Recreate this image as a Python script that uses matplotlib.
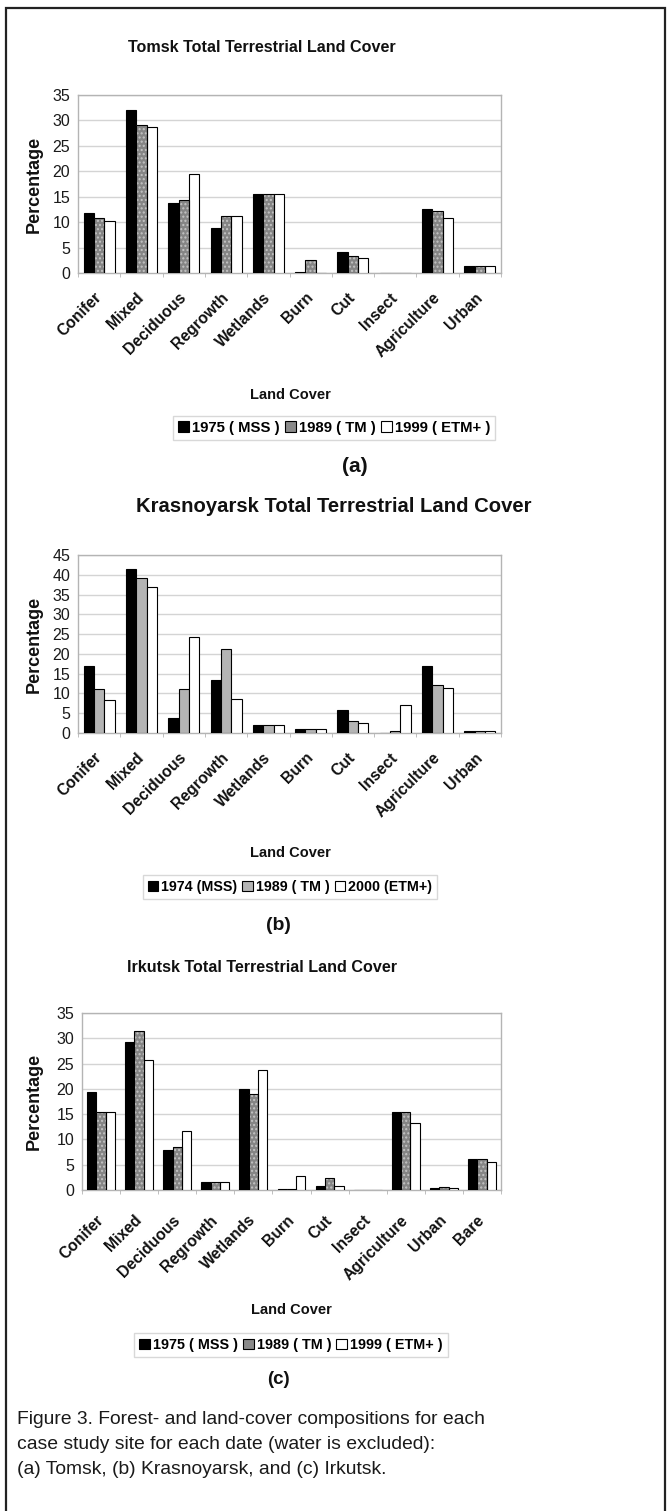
import matplotlib
matplotlib.use("Agg")
import matplotlib.pyplot as plt
from matplotlib.patches import Patch, Rectangle
import numpy as np

# ---------------------------------------------------------------- data
categories_tomsk = ["Conifer", "Mixed", "Deciduous", "Regrowth", "Wetlands",
                    "Burn", "Cut", "Insect", "Agriculture", "Urban"]
tomsk_1975 = [11.8, 32.0, 13.8, 8.9, 15.6, 0.1, 4.1, 0.0, 12.5, 1.3]
tomsk_1989 = [10.8, 29.1, 14.4, 11.2, 15.6, 2.5, 3.3, 0.0, 12.1, 1.3]
tomsk_1999 = [10.2, 28.8, 19.4, 11.3, 15.5, 0.0, 2.9, 0.0, 10.9, 1.3]
tomsk_labels = ["1975 ( MSS )", "1989 ( TM )", "1999 ( ETM+ )"]

categories_krasnoyarsk = ["Conifer", "Mixed", "Deciduous", "Regrowth", "Wetlands",
                          "Burn", "Cut", "Insect", "Agriculture", "Urban"]
krasnoyarsk_1974 = [17.0, 41.5, 3.8, 13.3, 2.1, 0.9, 5.9, 0.0, 16.9, 0.4]
krasnoyarsk_1989 = [11.2, 39.2, 11.2, 21.3, 2.1, 0.9, 3.0, 0.4, 12.2, 0.4]
krasnoyarsk_2000 = [8.3, 37.0, 24.2, 8.5, 2.1, 0.9, 2.6, 7.2, 11.4, 0.4]
krasnoyarsk_labels = ["1974 (MSS)", "1989 ( TM )", "2000 (ETM+)"]

categories_irkutsk = ["Conifer", "Mixed", "Deciduous", "Regrowth", "Wetlands",
                      "Burn", "Cut", "Insect", "Agriculture", "Urban", "Bare"]
irkutsk_1975 = [19.3, 29.2, 7.9, 1.5, 19.9, 0.25, 0.8, 0.0, 15.4, 0.35, 6.1]
irkutsk_1989 = [15.5, 31.4, 8.5, 1.5, 19.0, 0.25, 2.3, 0.0, 15.5, 0.55, 6.1]
irkutsk_1999 = [15.5, 25.8, 11.7, 1.5, 23.8, 2.8, 0.7, 0.0, 13.3, 0.35, 5.5]
irkutsk_labels = ["1975 ( MSS )", "1989 ( TM )", "1999 ( ETM+ )"]

caption_lines = [
    "Figure 3. Forest- and land-cover compositions for each",
    "case study site for each date (water is excluded):",
    "(a) Tomsk, (b) Krasnoyarsk, and (c) Irkutsk.",
]

plt.rcParams["font.family"] = ["Liberation Sans", "DejaVu Sans"]

W, H = 667, 1511
fig = plt.figure(figsize=(W / 100, H / 100), dpi=100)
fig.patch.set_facecolor("white")


def fx(px):
    return px / W


def fy(py):
    return 1 - py / H


# outer frame of the figure block
fig.patches.append(Rectangle((fx(6), fy(1515)), fx(659), fy(8) - fy(1515),
                             transform=fig.transFigure, fill=False,
                             edgecolor="#222222", linewidth=1.6))


def panel(left, right, top, bottom, categories, series, mid_color,
          mid_dotted, ymax, ystep, xlabel_pad):
    ax = fig.add_axes([fx(left), fy(bottom), fx(right - left),
                       fy(top) - fy(bottom)])
    n = len(categories)
    x = np.arange(n)
    width = 0.245
    faces = ["black", mid_color, "white"]
    for i, (vals, face) in enumerate(zip(series, faces)):
        pos = x + (i - 1) * width
        if i == 1 and mid_dotted:
            ax.bar(pos, vals, width, color=face, hatch="....",
                   edgecolor="#c4c4c4", linewidth=0, zorder=3)
            ax.bar(pos, vals, width, fill=False, edgecolor="black",
                   linewidth=0.8, zorder=4)
        else:
            ax.bar(pos, vals, width, color=face, edgecolor="black",
                   linewidth=0.8, zorder=3)
    ax.set_xlim(-0.5, n - 0.5)
    ax.set_ylim(0, ymax)
    ax.set_yticks(np.arange(0, ymax + 0.1, ystep))
    ax.yaxis.grid(True, color="#d4d4d4", linewidth=1.0, zorder=0)
    ax.set_axisbelow(True)
    for s in ax.spines.values():
        s.set_color("#b4b4b4")
        s.set_linewidth(1.0)
    ax.tick_params(axis="y", length=0, pad=5.5, labelcolor="#1a1a1a",
                   labelsize=11.5)
    # category boundary ticks on the bottom axis
    ax.set_xticks(np.arange(-0.5, n, 1.0), minor=True)
    ax.tick_params(axis="x", which="minor", length=3, color="#b4b4b4",
                   direction="out")
    ax.set_xticks(x)
    ax.set_xticklabels(categories, rotation=45, ha="right", va="center",
                       rotation_mode="anchor", fontsize=11.3,
                       fontweight="bold", color="#111111")
    ax.tick_params(axis="x", which="major", length=0, pad=xlabel_pad)
    ax.set_ylabel("Percentage", fontsize=13, fontweight="bold",
                  color="#111111")
    ax.yaxis.set_label_coords((43 - left) / (right - left), 0.5)
    return ax


def legend(cx, cy, labels, mid_color, size):
    handles = [Patch(facecolor="black", edgecolor="black", linewidth=0.8),
               Patch(facecolor=mid_color, edgecolor="black", linewidth=0.8),
               Patch(facecolor="white", edgecolor="black", linewidth=0.8)]
    leg = fig.legend(handles, labels, loc="center", ncol=3,
                     bbox_to_anchor=(fx(cx), fy(cy)), frameon=True,
                     fancybox=False, edgecolor="#d8d8d8", framealpha=1,
                     handlelength=0.75, handleheight=0.75, handletextpad=0.2,
                     columnspacing=0.35, borderpad=0.35, borderaxespad=0,
                     prop={"size": size, "weight": "bold"})
    leg.get_frame().set_linewidth(1.0)


def label(cx, cy, text, size, weight="bold"):
    fig.text(fx(cx), fy(cy), text, ha="center", va="center",
             color="#111111", fontsize=size, fontweight=weight)


# ---------------------------------------------------------------- (a) Tomsk
label(262, 47, "Tomsk Total Terrestrial Land Cover", 11.6)
panel(78, 501, 95, 273, categories_tomsk,
      [tomsk_1975, tomsk_1989, tomsk_1999], "#858585", True, 35, 5, 16)
label(290, 395, "Land Cover", 10.5)
legend(334, 428, tomsk_labels, "#8a8a8a", 10.7)
label(355, 467, "(a)", 15)

# ---------------------------------------------------------------- (b) Krasnoyarsk
label(334, 507, "Krasnoyarsk Total Terrestrial Land Cover", 14.6)
panel(78, 501, 555, 733, categories_krasnoyarsk,
      [krasnoyarsk_1974, krasnoyarsk_1989, krasnoyarsk_2000],
      "#b4b4b4", False, 45, 5, 16)
label(290, 853, "Land Cover", 10.5)
legend(290, 887, krasnoyarsk_labels, "#b4b4b4", 10.3)
label(278, 926, "(b)", 14)

# ---------------------------------------------------------------- (c) Irkutsk
label(262, 967, "Irkutsk Total Terrestrial Land Cover", 11.6)
panel(82, 501, 1013, 1190, categories_irkutsk,
      [irkutsk_1975, irkutsk_1989, irkutsk_1999], "#858585", True, 35, 5,
      20)
label(291, 1310, "Land Cover", 10.5)
legend(291, 1345, irkutsk_labels, "#8a8a8a", 10.4)
label(278, 1380, "(c)", 13.5)

# ---------------------------------------------------------------- caption
for i, line in enumerate(caption_lines):
    fig.text(fx(17), fy(1420 + 24.5 * i), line, ha="left", va="center",
             color="#1a1a1a", fontsize=13.9)

fig.savefig("out.png", dpi=100, facecolor="white")
